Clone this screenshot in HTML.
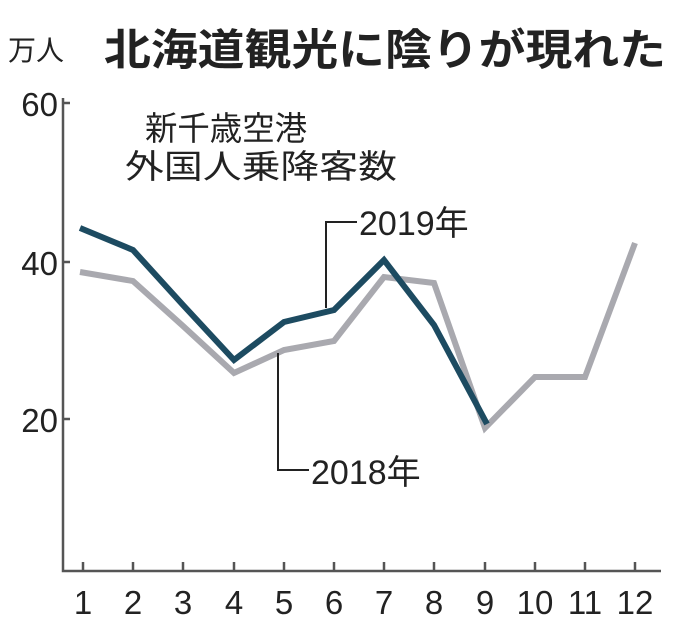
<!DOCTYPE html>
<html><head><meta charset="utf-8"><style>
html,body{margin:0;padding:0;background:#fff;width:680px;height:633px;overflow:hidden}
svg{display:block}
.t{font-family:"Liberation Sans Narrow","Liberation Sans","Noto Sans CJK JP",sans-serif;fill:#222}
.j{font-family:"Liberation Sans","Noto Sans CJK JP",sans-serif;fill:#222}
</style></head><body>
<svg width="680" height="633" viewBox="0 0 680 633">
<text class="j" x="8" y="60" font-size="28">万人</text>
<text class="j" x="104" y="65" font-size="43" font-weight="bold" textLength="562" lengthAdjust="spacingAndGlyphs">北海道観光に陰りが現れた</text>
<text class="j" x="145" y="140" font-size="33" textLength="162" lengthAdjust="spacingAndGlyphs">新千歳空港</text>
<text class="j" x="125" y="178" font-size="33" textLength="272" lengthAdjust="spacingAndGlyphs">外国人乗降客数</text>
<g stroke="#555" stroke-width="2.5" fill="none">
<path d="M63 98 V571 H661"/>
<path d="M63 103 H70 M63 262 H70 M63 419 H70"/>
<path d="M83 571 v-9 M133 571 v-9 M183 571 v-9 M234 571 v-9 M284 571 v-9 M334 571 v-9 M384 571 v-9 M434 571 v-9 M485 571 v-9 M535 571 v-9 M585 571 v-9 M635 571 v-9"/>
</g>
<g class="t" font-size="33" text-anchor="end">
<text x="58" y="116">60</text><text x="58" y="275">40</text><text x="58" y="432">20</text>
</g>
<g class="t" font-size="33" text-anchor="middle">
<text x="83" y="614">1</text><text x="133" y="614">2</text><text x="183" y="614">3</text><text x="234" y="614">4</text><text x="284" y="614">5</text><text x="334" y="614">6</text><text x="384" y="614">7</text><text x="434" y="614">8</text><text x="485" y="614">9</text><text x="535" y="614">10</text><text x="585" y="614">11</text><text x="635" y="614">12</text>
</g>
<polyline fill="none" stroke="#a9a9af" stroke-width="6" points="80,272 133,281 183,326 234,373 284,350 334,341 384,277 434,283 485,428 535,377 585,377 635,243"/>
<polyline fill="none" stroke="#1d4b61" stroke-width="6" points="80,228 133,250 183,305 234,360 284,322 334,310 384,260 434,325 487,424"/>
<g stroke="#222" stroke-width="2" fill="none">
<path d="M326 308 V222 H357"/>
<path d="M278 353 V470 H309"/>
</g>
<text class="t" x="359" y="235" font-size="34">2019年</text>
<text class="t" x="311" y="484" font-size="34">2018年</text>
</svg>
</body></html>
